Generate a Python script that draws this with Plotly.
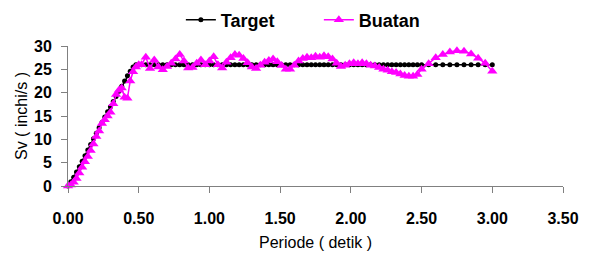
import plotly.graph_objects as go

# Period (s)
periode = [
    0.00, 0.02, 0.04, 0.06, 0.08, 0.10, 0.12, 0.14, 0.16, 0.18,
    0.20, 0.22, 0.24, 0.26, 0.28, 0.30, 0.32, 0.34, 0.36, 0.38,
    0.40, 0.42, 0.44, 0.46, 0.48, 0.50,
    0.52, 0.55, 0.58, 0.61, 0.64, 0.67, 0.70, 0.73, 0.76, 0.79,
    0.82, 0.85, 0.88, 0.91, 0.94, 0.97, 1.00, 1.03, 1.06, 1.09,
    1.12, 1.15, 1.18, 1.21, 1.24, 1.27, 1.30, 1.33, 1.36, 1.39,
    1.42, 1.45, 1.48, 1.51, 1.54, 1.57, 1.60, 1.63, 1.66, 1.69,
    1.72, 1.75, 1.78, 1.81, 1.84, 1.87, 1.90, 1.93, 1.96, 1.99,
    2.02, 2.05, 2.08, 2.11, 2.14, 2.17, 2.20, 2.23, 2.26, 2.29,
    2.32, 2.35, 2.38, 2.41, 2.44, 2.47, 2.50,
    2.55, 2.60, 2.65, 2.70, 2.75, 2.80, 2.85, 2.90, 2.95, 3.00,
]

target = [
    0.0, 0.9, 1.9, 3.0, 4.1, 5.3, 6.5, 7.7, 8.9, 10.1,
    11.3, 12.5, 13.6, 14.8, 15.9, 17.0, 18.1, 19.2, 20.3, 21.4,
    22.5, 23.6, 24.6, 25.5, 26.0, 26.0,
    26.0, 26.0, 26.0, 26.0, 26.0, 26.0, 26.0, 26.0, 26.0, 26.0,
    26.0, 26.0, 26.0, 26.0, 26.0, 26.0, 26.0, 26.0, 26.0, 26.0,
    26.0, 26.0, 26.0, 26.0, 26.0, 26.0, 26.0, 26.0, 26.0, 26.0,
    26.0, 26.0, 26.0, 26.0, 26.0, 26.0, 26.0, 26.0, 26.0, 26.0,
    26.0, 26.0, 26.0, 26.0, 26.0, 26.0, 26.0, 26.0, 26.0, 26.0,
    26.0, 26.0, 26.0, 26.0, 26.0, 26.0, 26.0, 26.0, 26.0, 26.0,
    26.0, 26.0, 26.0, 26.0, 26.0, 26.0, 26.0,
    26.0, 26.0, 26.0, 26.0, 26.0, 26.0, 26.0, 26.0, 26.0, 26.0,
]

buatan = [
    0.0, 0.2, 0.8, 1.6, 2.8, 4.0, 5.2, 6.3, 7.6, 9.0,
    10.6, 11.8, 13.4, 14.2, 15.0, 15.8, 17.6, 19.6, 20.5, 21.0,
    19.0, 18.8, 22.5, 24.5, 25.5, 26.0,
    26.0, 27.6, 25.2, 27.0, 25.5, 24.9, 25.6, 26.3, 27.2, 28.2,
    26.8, 25.3, 25.4, 26.3, 27.0, 26.0, 26.8, 27.7, 26.0, 25.3,
    26.5, 27.5, 28.2, 28.0, 27.3, 26.4, 25.5, 25.2, 25.9, 26.5,
    26.9, 27.2, 26.6, 25.8, 25.0, 25.0, 25.9, 26.8, 27.3, 27.6,
    27.5, 27.8, 27.6, 27.9, 27.7, 27.2, 26.3, 25.6, 25.9, 26.2,
    26.4, 26.2, 26.4, 26.2, 25.9, 25.7, 25.4, 25.0, 24.8, 24.5,
    24.3, 24.0, 23.7, 23.5, 23.5, 23.9, 25.0,
    26.2, 27.5, 28.2, 28.7, 29.0, 28.9, 28.3, 27.4, 26.3, 24.6,
]

x_ticks = [0.0, 0.5, 1.0, 1.5, 2.0, 2.5, 3.0, 3.5]
y_ticks = [0, 5, 10, 15, 20, 25, 30]

FONT = "Liberation Sans, Arial, sans-serif"

fig = go.Figure()
fig.add_trace(go.Scatter(
    x=periode, y=target, name="Target", mode="lines+markers",
    line=dict(color="black", width=1.5),
    marker=dict(symbol="circle", size=5, color="black"),
    cliponaxis=False,
))
fig.add_trace(go.Scatter(
    x=periode, y=buatan, name="Buatan", mode="lines+markers",
    line=dict(color="#FF00FF", width=1.5),
    marker=dict(symbol="triangle-up", size=9, color="#FF00FF"),
    cliponaxis=False,
))

fig.update_layout(
    width=591, height=257,
    margin=dict(l=68, r=28, t=46, b=71, autoexpand=False),
    paper_bgcolor="white", plot_bgcolor="white",
    font=dict(family=FONT, color="black"),
    showlegend=True,
    legend=dict(
        orientation="h", x=0.228, y=1.186, xanchor="left", yanchor="middle",
        font=dict(family=FONT, size=18, weight="bold", color="black"),
        entrywidth=93, entrywidthmode="pixels",
        bgcolor="rgba(0,0,0,0)",
    ),
    xaxis=dict(
        range=[0, 3.5], tickvals=x_ticks, tickformat=".2f",
        showgrid=False, zeroline=False, automargin=False,
        showline=True, linecolor="#808080", linewidth=1,
        ticks="outside", ticklen=6, tickcolor="#808080",
        ticklabelstandoff=12,
        tickfont=dict(family=FONT, size=16, weight="bold", color="black"),
        title=dict(text="Periode ( detik )", font=dict(family=FONT, size=16, color="black"), standoff=10),
    ),
    yaxis=dict(
        range=[0, 30], tickvals=y_ticks,
        showgrid=False, zeroline=False, automargin=False,
        showline=True, linecolor="#808080", linewidth=1,
        ticks="outside", ticklen=6, tickcolor="#808080",
        ticklabelstandoff=6,
        tickfont=dict(family=FONT, size=16, weight="bold", color="black"),
        title=dict(text="Sv ( inchi/s )", font=dict(family=FONT, size=16, color="black"), standoff=2),
    ),
)

fig.write_html(
    "out.html",
    config={"displayModeBar": False},
    post_script="document.body.style.margin='0';document.body.style.overflow='hidden';",
)
